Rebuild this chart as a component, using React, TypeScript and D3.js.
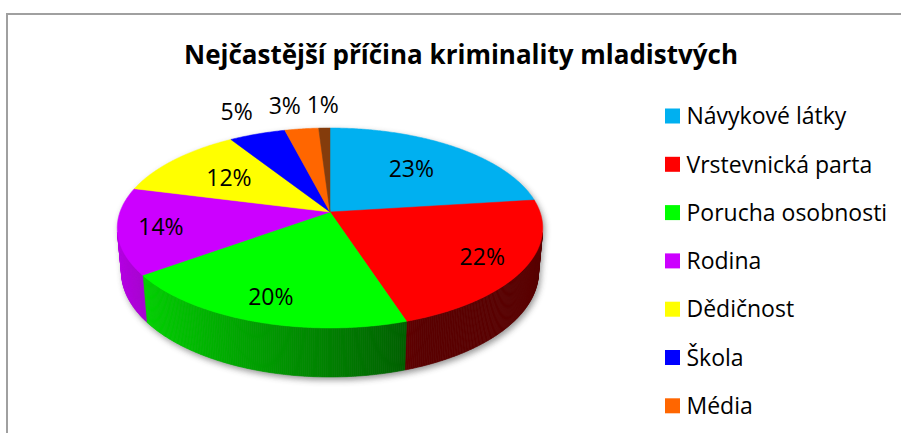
import React from "react";
import * as d3 from "d3";

const categories = [
  "Návykové látky",
  "Vrstevnická parta",
  "Porucha osobnosti",
  "Rodina",
  "Dědičnost",
  "Škola",
  "Média",
  "Ostatní",
];
const values = [23, 22, 20, 14, 12, 5, 3, 1];
const colors = ["#00B0F0", "#FF0000", "#00FF00", "#CC00FF", "#FFFF00", "#0000FF", "#FF6600", "#843C0C"];
const title = "Nejčastější příčina kriminality mladistvých";

const W = 901;
const H = 433;

// 3D projection parameters
const SCALE = 210;
const DIST = 5.54;
const SIN_A = 0.464;
const COS_A = Math.sqrt(1 - SIN_A * SIN_A);
const DEPTH = 0.239;
const CX = 330;
const CY = 212;

function proj(x: number, y: number, z: number): [number, number] {
  const yv = y * COS_A - z * SIN_A;
  const zv = DIST - (z * COS_A + y * SIN_A);
  const k = (SCALE * DIST) / zv;
  return [CX + x * k, CY - yv * k];
}
function rim(theta: number, r: number, y: number): [number, number] {
  return proj(r * Math.sin(theta), y, -r * Math.cos(theta));
}

const toPath = (pts: [number, number][]) =>
  "M" + pts.map((p) => p[0].toFixed(2) + "," + p[1].toFixed(2)).join("L") + "Z";

export default function App() {
  const total = d3.sum(values);
  const pie = d3.pie<number>().sort(null).value((d) => d);
  const arcs = pie(values);
  const pct = d3.format(".0%");

  const step = Math.PI / 360;
  const cosLim = -1 / (DIST * COS_A);

  const tops: { d: string; fill: string }[] = [];
  const sides: { d: string; fill: string }[] = [];
  const shadowParts: string[] = [];

  arcs.forEach((a, i) => {
    const pts: [number, number][] = [proj(0, 0, 0)];
    const n = Math.max(2, Math.ceil((a.endAngle - a.startAngle) / step));
    for (let j = 0; j <= n; j++) {
      const t = a.startAngle + ((a.endAngle - a.startAngle) * j) / n;
      pts.push(rim(t, 1, 0));
    }
    tops.push({ d: toPath(pts), fill: colors[i] });

    for (let j = 0; j < n; j++) {
      const t0 = a.startAngle + ((a.endAngle - a.startAngle) * j) / n;
      const t1 = a.startAngle + ((a.endAngle - a.startAngle) * (j + 1)) / n;
      const tm = (t0 + t1) / 2;
      if (Math.cos(tm) >= cosLim) continue;
      const f = Math.max(0.35, 0.5 - 0.4 * Math.sin(tm));
      const c = d3.rgb(colors[i]);
      const col = d3.rgb(c.r * f, c.g * f, c.b * f).formatHex();
      sides.push({
        d: toPath([rim(t0, 1, 0), rim(t1, 1, 0), rim(t1, 1, -DEPTH), rim(t0, 1, -DEPTH)]),
        fill: col,
      });
    }
  });

  {
    const topAll: [number, number][] = [];
    const botAll: [number, number][] = [];
    for (let t = 0; t < Math.PI * 2; t += step * 2) {
      topAll.push(rim(t, 1, 0));
      botAll.push(rim(t, 1, -DEPTH));
    }
    shadowParts.push(toPath(topAll), toPath(botAll));
    const wall: [number, number][] = [];
    const tA = Math.acos(cosLim);
    const tB = Math.PI * 2 - tA;
    for (let t = tA; t <= tB; t += step) wall.push(rim(t, 1, 0));
    for (let t = tB; t >= tA; t -= step) wall.push(rim(t, 1, -DEPTH));
    shadowParts.push(toPath(wall));
  }

  type Lab = { x: number; y: number; text: string; w: number; outside: boolean };
  const labels: Lab[] = arcs.map((a) => {
    const mid = (a.startAngle + a.endAngle) / 2;
    const share = a.value / total;
    const outside = share < 0.08;
    const r = outside ? 1.34 : Math.cos(mid) < 0 ? 0.8 : 0.63;
    const [x, y] = rim(mid, r, 0);
    const text = pct(share);
    return { x, y, text, w: text.length * 14, outside };
  });
  const outs = labels.filter((l) => l.outside).sort((p, q) => q.x - p.x);
  for (let k = 1; k < outs.length; k++) {
    const prev = outs[k - 1];
    const cur = outs[k];
    const minGap = prev.w / 2 + cur.w / 2 + 10;
    if (prev.x - cur.x < minGap) cur.x = prev.x - minGap;
  }

  const legendX = 665;
  const legendY0 = 116;
  const legendStep = 48.3;
  const legendItems = categories
    .map((c, i) => ({ c, i, y: legendY0 + i * legendStep }))
    .filter((l) => l.y < H - 16);

  const font = "'Open Sans', 'Noto Sans', sans-serif";

  return (
    <svg
      width={W}
      height={H}
      viewBox={`0 0 ${W} ${H}`}
      style={{ position: "absolute", left: 0, top: 0, background: "#fff" }}
    >
      <defs>
        <filter id="blur" x="-20%" y="-20%" width="140%" height="140%">
          <feGaussianBlur stdDeviation="3" />
        </filter>
      </defs>
      <rect x={0} y={0} width={W} height={H} fill="#fff" />
      <path d={`M7,${H} V14 H${W}`} fill="none" stroke="#A0A0A0" strokeWidth={2} />
      <text
        x={461}
        y={64}
        textAnchor="middle"
        fontFamily={font}
        fontWeight="bold"
        fontSize={26}
        textLength={554}
        lengthAdjust="spacingAndGlyphs"
        fill="#000"
      >
        {title}
      </text>

      <g filter="url(#blur)" opacity={0.55} transform="translate(2,3)">
        {shadowParts.map((d, k) => (
          <path key={k} d={d} fill="#404040" />
        ))}
      </g>

      {sides.map((s, k) => (
        <path key={"s" + k} d={s.d} fill={s.fill} stroke={s.fill} strokeWidth={0.6} />
      ))}
      {tops.map((t, k) => (
        <path key={"t" + k} d={t.d} fill={t.fill} stroke={t.fill} strokeWidth={0.5} />
      ))}

      {labels.map((l, k) => (
        <text
          key={"l" + k}
          x={l.x}
          y={l.y}
          dy="0.36em"
          textAnchor="middle"
          fontFamily={font}
          fontSize={23}
          fill="#000"
        >
          {l.text}
        </text>
      ))}

      {legendItems.map((l) => (
        <g key={"g" + l.i} transform={`translate(${legendX},${l.y})`}>
          <rect x={0} y={-7.5} width={15} height={15} fill={colors[l.i]} />
          <text x={21.5} y={0} dy="0.36em" fontFamily={font} fontSize={23} fill="#000">
            {l.c}
          </text>
        </g>
      ))}
    </svg>
  );
}
